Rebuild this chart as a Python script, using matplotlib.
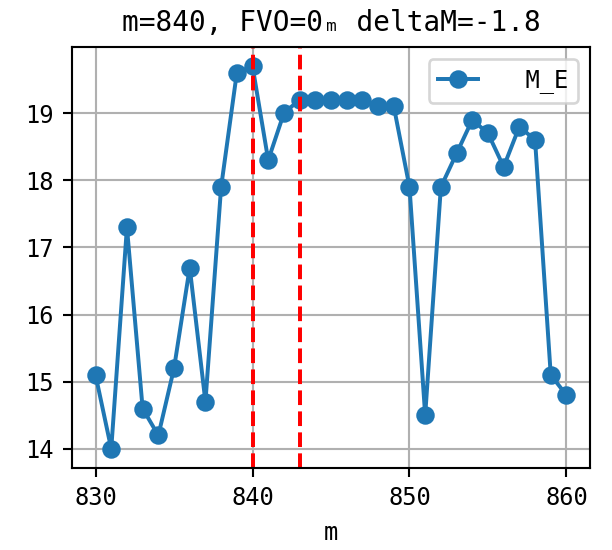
import matplotlib
matplotlib.use("Agg")
import matplotlib.pyplot as plt

m_values = list(range(830, 861))
M_E = [15.1, 14.0, 17.3, 14.6, 14.2, 15.2, 16.7, 14.7, 17.9, 19.6,
       19.7, 18.3, 19.0, 19.2, 19.2, 19.2, 19.2, 19.2, 19.1, 19.1,
       17.9, 14.5, 17.9, 18.4, 18.9, 18.7, 18.2, 18.8, 18.6, 15.1, 14.8]
vlines = [840, 843]
title_text = "m=840, FVO=0\u2098 deltaM=-1.8"

plt.rcParams['font.family'] = ['DejaVu Sans Mono', 'DejaVu Sans']

DPI = 190
fig = plt.figure(figsize=(612 / DPI, 550 / DPI), dpi=DPI)
ax = fig.add_axes([72 / 612, 1 - 468 / 550, (590 - 72) / 612, (468 - 47) / 550])

ax.plot(m_values, M_E, marker='o', label='  M_E')
for v in vlines:
    ax.axvline(v, color='red', linestyle='--')

ax.grid(True)
ax.set_xticks([830, 840, 850, 860])
ax.tick_params(labelsize=9)
ax.set_xlabel('m', fontsize=9)
ax.set_title(title_text, fontsize=10.5)
ax.legend(loc='upper right', fontsize=9, handlelength=1.7)

fig.savefig('out.png', dpi=DPI)
